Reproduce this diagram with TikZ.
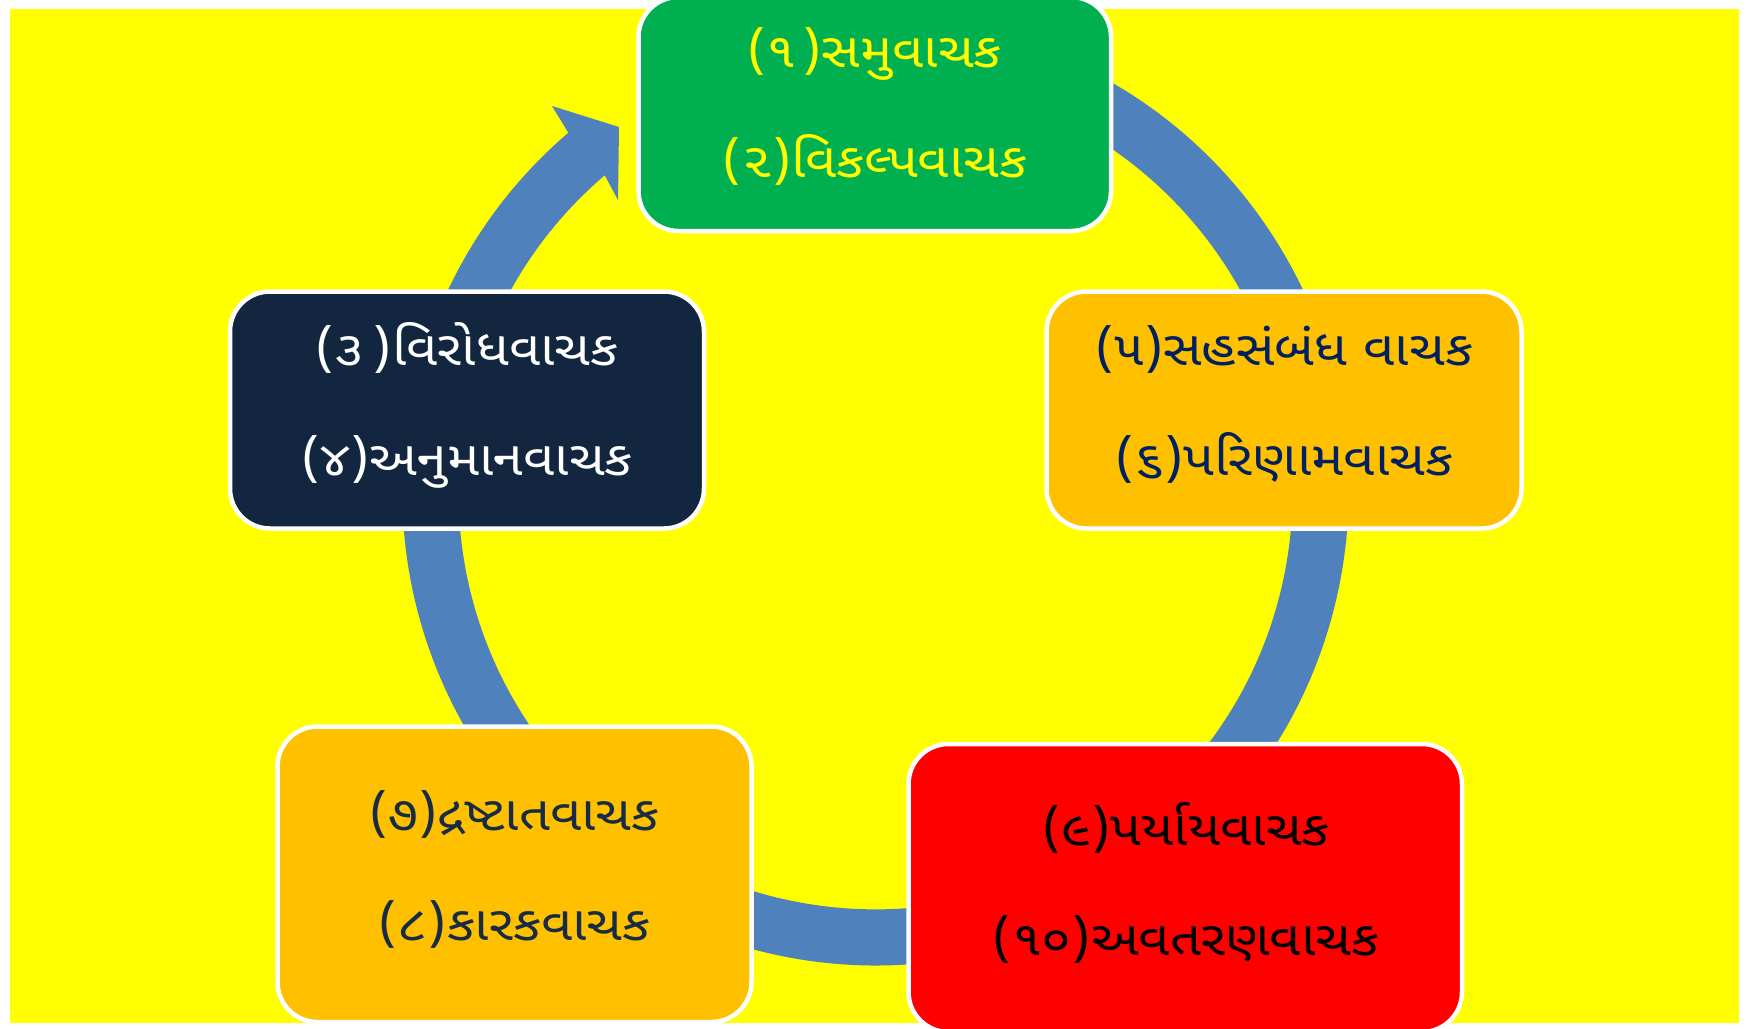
\documentclass[tikz,border=0pt]{standalone}
\usepackage{fontspec}
\newfontfamily\guj[Script=Gujarati, FakeStretch=1.13]{Noto Sans Gujarati UI}
\definecolor{bgyellow}{HTML}{FFFF00}
\definecolor{ringblue}{HTML}{4F81BD}
\definecolor{boxgreen}{HTML}{00B050}
\definecolor{boxnavy}{HTML}{122640}
\definecolor{boxorange}{HTML}{FFC000}
\definecolor{boxred}{HTML}{FF0000}
\definecolor{txtblue}{HTML}{002060}
\definecolor{txtnavy}{HTML}{172B45}
\begin{document}
\begin{tikzpicture}[x=0.5pt,y=-0.5pt,
  box/.style={draw=white, line width=2.25pt, rounded corners=20pt, inner sep=0pt},
  txt/.style={font=\guj\fontsize{24pt}{28pt}\selectfont, inner sep=0pt, anchor=base}]
\useasboundingbox (0,0) rectangle (1749,1028);
\fill[white] (0,0) rectangle (1749,1028);
\fill[bgyellow] (10,9) rectangle (1739,1023);
\coordinate (C) at (875.5,492.4);
% ring with arrowhead
\fill[ringblue] ([shift={(C)}]75:236.5pt) arc[start angle=75, end angle=-229.5, radius=236.5pt]
  -- (552,106) -- (619,127) -- (618,200) -- (604.7,175.3)
  arc[start angle=-229.5, end angle=75, radius=208.5pt] -- cycle;
% boxes
\node[box, fill=boxgreen, minimum width=236.25pt, minimum height=117pt] (b1) at (874.75,114) {};
\node[box, fill=boxnavy, minimum width=237pt, minimum height=118.5pt] (b3) at (467,410) {};
\node[box, fill=boxorange, minimum width=237.5pt, minimum height=118.5pt] (b5) at (1284,410) {};
\node[box, fill=boxorange, minimum width=237pt, minimum height=147.75pt] (b7) at (514.5,874.25) {};
\node[box, fill=boxred, minimum width=276.75pt, minimum height=144pt] (b9) at (1185.25,888) {};
% texts
\node[txt, text=bgyellow] (t1) at (874.5,67) {(૧\kern3pt)સમુવાચક};
\node[txt, text=bgyellow] (t2) at (875,177) {(૨)વિકલ્પવાચક};
\node[txt, text=white] (t3) at (467,365) {(૩\kern4pt)વિરોધવાચક};
\node[txt, text=white] (t4) at (467,475) {(૪)અનુમાનવાચક};
\node[txt, text=txtblue] (t5) at (1284,365) {(૫)સહસંબંધ વાચક};
\node[txt, text=txtblue] (t6) at (1284,475) {(૬)પરિણામવાચક};
\node[txt, text=txtnavy] (t7) at (514.5,830) {(૭)દ્રષ્ટાતવાચક};
\node[txt, text=txtnavy] (t8) at (514.5,940) {(૮)કારકવાચક};
\node[txt, text=black] (t9) at (1186,845) {(૯)પર્યાયવાચક};
\node[txt, text=black] (t10) at (1186,955) {(૧૦)અવતરણવાચક};
\end{tikzpicture}
\end{document}
